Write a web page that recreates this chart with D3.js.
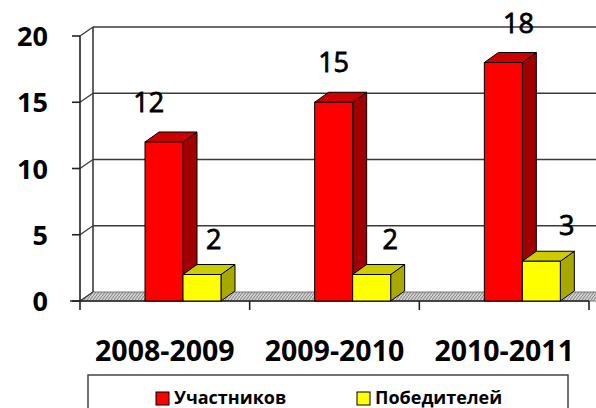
<!DOCTYPE html>
<html>
<head>
<meta charset="utf-8">
<script src="https://cdn.jsdelivr.net/npm/d3@7"></script>
<style>
  body { margin: 0; background: #fff; }
  svg { display: block; }
  text { font-family: "Open Sans", "Liberation Sans", sans-serif; fill: #000; }
</style>
</head>
<body>
<svg id="chart" width="596" height="408"></svg>
<script>
// data
var categories = ["2008-2009", "2009-2010", "2010-2011"];
var seriesNames = ["Участников", "Победителей"];
var participants = [12, 15, 18];
var winners = [2, 2, 3];
var yTicks = [0, 5, 10, 15, 20];

var W = 596, H = 408;
var svg = d3.select("#chart");

// plot frame
var x0 = 80, x1 = 589, yBase = 301, yTop = 36;
var wall = { dx: 13, dy: -9 };   // depth of walls/floor
var dep = { dx: 14, dy: -10 };   // depth of bars

var y = d3.scaleLinear().domain([0, 20]).range([yBase, yTop]);
var x = d3.scaleBand().domain(categories).range([x0, x1]).paddingInner(0).paddingOuter(0);
var xs = d3.scaleBand().domain(seriesNames).range([65, 141]);

var colors = {
    "Участников": { front: "#ff0000", top: "#cc0000", side: "#a00000" },
    "Победителей": { front: "#ffff00", top: "#cccc00", side: "#a8a800" }
};

// floor pattern
var defs = svg.append("defs");
var pat = defs.append("pattern")
    .attr("id", "hatch")
    .attr("patternUnits", "userSpaceOnUse")
    .attr("width", 3).attr("height", 4);
pat.append("rect").attr("width", 3).attr("height", 4).attr("fill", "#d0d0d0");
pat.append("path").attr("d", "M0,4 L3,0").attr("stroke", "#808080").attr("stroke-width", 1);

var g = svg.append("g");

// floor
g.append("path")
    .attr("d", "M" + x0 + "," + yBase + " L" + (x1 + 10) + "," + yBase +
        " L" + (x1 + 10 + wall.dx) + "," + (yBase + wall.dy) +
        " L" + (x0 + wall.dx) + "," + (yBase + wall.dy) + "Z")
    .attr("fill", "url(#hatch)")
    .attr("stroke", "#555").attr("stroke-width", 0.8);

// back wall grid lines
g.selectAll(".grid").data(yTicks.filter(d => d > 0)).enter().append("line")
    .attr("class", "grid")
    .attr("x1", x0 + wall.dx).attr("x2", W + 20)
    .attr("y1", d => y(d) + wall.dy).attr("y2", d => y(d) + wall.dy)
    .attr("stroke", "#3a3a3a").attr("stroke-width", 1.6);

// side wall diagonals
g.selectAll(".diag").data(yTicks).enter().append("line")
    .attr("x1", x0).attr("x2", x0 + wall.dx)
    .attr("y1", d => y(d)).attr("y2", d => y(d) + wall.dy)
    .attr("stroke", "#3a3a3a").attr("stroke-width", 1.3);

// back wall left edge
g.append("line")
    .attr("x1", x0 + wall.dx).attr("x2", x0 + wall.dx)
    .attr("y1", y(20) + wall.dy).attr("y2", y(0) + wall.dy)
    .attr("stroke", "#3a3a3a").attr("stroke-width", 1.6);

// y axis
g.append("line")
    .attr("x1", x0).attr("x2", x0).attr("y1", y(20)).attr("y2", y(0))
    .attr("stroke", "#222").attr("stroke-width", 1.6);
g.selectAll(".ytick").data(yTicks).enter().append("line")
    .attr("x1", x0 - 8).attr("x2", x0)
    .attr("y1", d => y(d)).attr("y2", d => y(d))
    .attr("stroke", "#222").attr("stroke-width", 1.6);
g.selectAll(".ylab").data(yTicks).enter().append("text")
    .attr("x", 48).attr("y", d => y(d) + 10)
    .attr("text-anchor", "end")
    .attr("font-size", 27).attr("font-weight", "bold")
    .text(d => d);

// x axis
g.append("line")
    .attr("x1", x0 - 10).attr("x2", x1).attr("y1", yBase).attr("y2", yBase)
    .attr("stroke", "#222").attr("stroke-width", 1.6);
var xt = categories.map(c => x(c)).concat([x1]);
g.selectAll(".xtick").data(xt).enter().append("line")
    .attr("x1", d => d).attr("x2", d => d).attr("y1", yBase).attr("y2", yBase + 9)
    .attr("stroke", "#222").attr("stroke-width", 1.6);
g.selectAll(".xlab").data(categories).enter().append("text")
    .attr("x", d => x(d) + x.bandwidth() / 2).attr("y", 361)
    .attr("text-anchor", "middle")
    .attr("font-size", 28.5).attr("font-weight", "bold")
    .text(d => d);

// bars
function bar3d(sel, bx, bw, v, c) {
    var yt = y(v), yb = y(0);
    sel.append("path") // side
        .attr("d", "M" + (bx + bw) + "," + yb + " L" + (bx + bw) + "," + yt +
            " L" + (bx + bw + dep.dx) + "," + (yt + dep.dy) +
            " L" + (bx + bw + dep.dx) + "," + (yb + dep.dy) + "Z")
        .attr("fill", c.side).attr("stroke", "#000").attr("stroke-width", 1);
    sel.append("path") // top
        .attr("d", "M" + bx + "," + yt + " L" + (bx + bw) + "," + yt +
            " L" + (bx + bw + dep.dx) + "," + (yt + dep.dy) +
            " L" + (bx + dep.dx) + "," + (yt + dep.dy) + "Z")
        .attr("fill", c.top).attr("stroke", "#000").attr("stroke-width", 1);
    sel.append("rect") // front
        .attr("x", bx).attr("y", yt).attr("width", bw).attr("height", yb - yt)
        .attr("fill", c.front).attr("stroke", "#000").attr("stroke-width", 1);
}

var series = [participants, winners];
var midX = (x0 + x1) / 2;
categories.forEach(function (cat, i) {
    series.forEach(function (vals, s) {
        var name = seriesNames[s];
        var bx = x(cat) + xs(name);
        bar3d(g.append("g"), bx, xs.bandwidth(), vals[i], colors[name]);
    });
});

// data labels (drawn after bars)
categories.forEach(function (cat, i) {
    series.forEach(function (vals, s) {
        var name = seriesNames[s];
        var cx = x(cat) + xs(name) + xs.bandwidth() / 2;
        var lx = s === 0 ? cx + (cx - midX) * 0.09 : cx + 17 + (cx - midX) * 0.04;
        g.append("text")
            .attr("x", lx).attr("y", y(vals[i]) - (s === 0 ? 30 : 26))
            .attr("text-anchor", "middle")
            .attr("font-size", 27)
            .attr("stroke", "#000").attr("stroke-width", 0.8)
            .text(vals[i]);
    });
});

// legend
var lg = svg.append("g");
lg.append("rect")
    .attr("x", 88).attr("y", 375).attr("width", 480).attr("height", 40)
    .attr("fill", "#fff").attr("stroke", "#444").attr("stroke-width", 1.5);
var legX = [156, 357];
seriesNames.forEach(function (name, s) {
    lg.append("rect")
        .attr("x", legX[s]).attr("y", 392).attr("width", 13).attr("height", 13)
        .attr("fill", colors[name].front).attr("stroke", "#000").attr("stroke-width", 1);
    lg.append("text")
        .attr("x", legX[s] + 18).attr("y", 404)
        .attr("font-size", 18).attr("font-weight", "bold")
        .text(name);
});
</script>
</body>
</html>
